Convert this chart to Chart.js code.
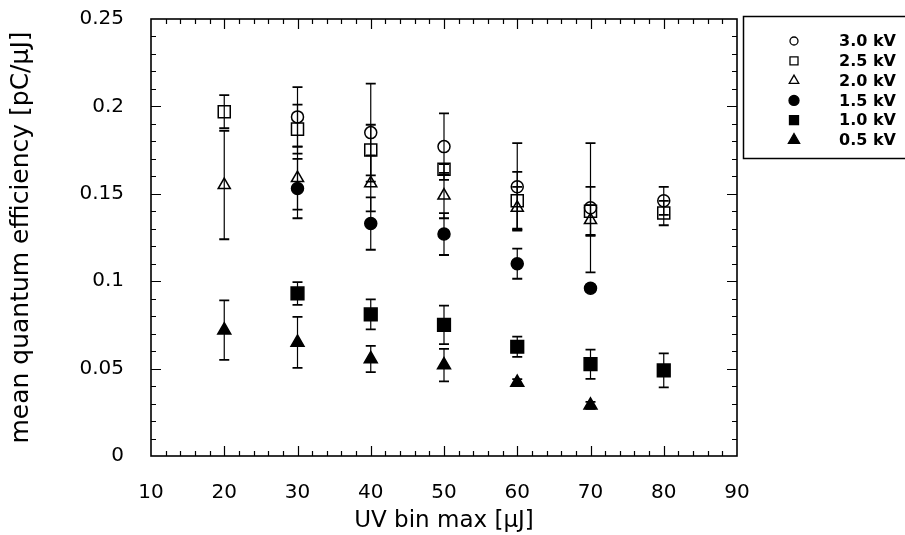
<!DOCTYPE html>
<html>
<head>
<meta charset="utf-8">
<title>Mean quantum efficiency vs UV bin</title>
<script src="https://cdn.jsdelivr.net/npm/chart.js@4.4.0/dist/chart.umd.min.js"></script>
<style>
  html, body { margin: 0; padding: 0; background: #fff; }
  #wrap { width: 905px; height: 535px; }
</style>
</head>
<body>
<div id="wrap"><canvas id="qeChart" width="905" height="535"></canvas></div>
<script>
// UV bin upper edges [uJ]
const binMax = [20, 30, 40, 50, 60, 70, 80];

// mean quantum efficiency [pC/uJ] per bias voltage, null = no measurement
const qe30 = [null, 0.194, 0.185, 0.177, 0.154, 0.142, 0.146];
const qe25 = [0.197, 0.187, 0.175, 0.164, 0.146, 0.140, 0.139];
const qe20 = [0.155, 0.159, 0.156, 0.149, 0.142, 0.135, null];
const qe15 = [null, 0.153, 0.133, 0.127, 0.110, 0.096, null];
const qe10 = [null, 0.093, 0.081, 0.075, 0.0625, 0.0525, 0.049];
const qe05 = [0.072, 0.065, 0.0555, 0.052, 0.042, 0.029, null];

// symmetric errors
const err30 = [null, 0.017, 0.028, 0.019, 0.025, 0.037, 0.008];
const err25 = [0.0095, 0.014, 0.0145, 0.003, 0.0165, 0.014, 0.007];
const err20 = [0.031, 0.018, 0.016, 0.013, 0.012, 0.0085, null];
const err15 = [null, 0.017, 0.015, 0.012, 0.0086, 0.002, null];
const err10 = [null, 0.0065, 0.0086, 0.011, 0.0058, 0.0084, 0.0097];
const err05 = [0.017, 0.0146, 0.0075, 0.0093, 0.002, 0.002, null];

const voltageLabels = ['3.0 kV', '2.5 kV', '2.0 kV', '1.5 kV', '1.0 kV', '0.5 kV'];

// axis ticks
const xMin = 10, xMax = 90, xStep = 10, xMinorStep = 2;
const yMin = 0, yMax = 0.25, yStep = 0.05, yMinorStep = 0.01;

const FONT = "'DejaVu Sans', 'Liberation Sans', Arial, sans-serif";

function toPoints(values, errors) {
    const pts = [];
    binMax.forEach((x, i) => {
        if (values[i] !== null) pts.push({ x: x, y: values[i], err: errors[i] || 0 });
    });
    return pts;
}

function makeSet(label, values, errors, shape, filled, radius) {
    return {
        label: label,
        data: toPoints(values, errors),
        pointStyle: shape,
        pointRadius: radius,
        pointHoverRadius: radius,
        pointBorderWidth: 1.5,
        pointBorderColor: '#000',
        pointBackgroundColor: filled ? '#000' : 'rgba(0,0,0,0)',
        showLine: false,
        filled: filled
    };
}

const datasets = [
    makeSet(voltageLabels[0], qe30, err30, 'circle', false, 6),
    makeSet(voltageLabels[1], qe25, err25, 'rect', false, 8.5),
    makeSet(voltageLabels[2], qe20, err20, 'triangle', false, 7),
    makeSet(voltageLabels[3], qe15, err15, 'circle', true, 6),
    makeSet(voltageLabels[4], qe10, err10, 'rect', true, 9),
    makeSet(voltageLabels[5], qe05, err05, 'triangle', true, 7.5)
];

// plot frame with inward ticks on all four sides
const frameTicks = {
    id: 'frameTicks',
    beforeDatasetsDraw(chart) {
        const { ctx, chartArea: a, scales: { x, y } } = chart;
        ctx.save();
        ctx.strokeStyle = '#000';
        ctx.lineWidth = 1.6;
        ctx.strokeRect(a.left, a.top, a.right - a.left, a.bottom - a.top);
        ctx.lineWidth = 1.2;
        ctx.beginPath();
        const nx = Math.round((xMax - xMin) / xMinorStep);
        for (let i = 1; i < nx; i++) {
            const v = xMin + i * xMinorStep;
            const px = Math.round(x.getPixelForValue(v)) + 0.5;
            const len = (i % (xStep / xMinorStep) === 0) ? 10 : 5;
            ctx.moveTo(px, a.bottom); ctx.lineTo(px, a.bottom - len);
            ctx.moveTo(px, a.top); ctx.lineTo(px, a.top + len);
        }
        const ny = Math.round((yMax - yMin) / yMinorStep);
        for (let i = 1; i < ny; i++) {
            const v = yMin + i * yMinorStep;
            const py = Math.round(y.getPixelForValue(v)) + 0.5;
            const len = (i % Math.round(yStep / yMinorStep) === 0) ? 10 : 5;
            ctx.moveTo(a.left, py); ctx.lineTo(a.left + len, py);
            ctx.moveTo(a.right, py); ctx.lineTo(a.right - len, py);
        }
        ctx.stroke();
        ctx.restore();
    }
};

// vertical error bars with caps
const errorBars = {
    id: 'errorBars',
    beforeDatasetsDraw(chart) {
        const { ctx, scales: { y } } = chart;
        ctx.save();
        ctx.strokeStyle = '#000';
        chart.data.datasets.forEach((ds, di) => {
            const meta = chart.getDatasetMeta(di);
            ds.data.forEach((p, i) => {
                if (!p.err) return;
                const el = meta.data[i];
                const top = y.getPixelForValue(p.y + p.err);
                const bot = y.getPixelForValue(p.y - p.err);
                ctx.lineWidth = 1.2;
                ctx.beginPath();
                ctx.moveTo(el.x, top); ctx.lineTo(el.x, bot);
                ctx.stroke();
                ctx.lineWidth = 1.8;
                ctx.beginPath();
                ctx.moveTo(el.x - 5, top); ctx.lineTo(el.x + 5, top);
                ctx.moveTo(el.x - 5, bot); ctx.lineTo(el.x + 5, bot);
                ctx.stroke();
            });
        });
        ctx.restore();
    }
};

function drawSymbol(ctx, shape, filled, cx, cy, r) {
    ctx.beginPath();
    if (shape === 'circle') {
        ctx.arc(cx, cy, r, 0, Math.PI * 2);
    } else if (shape === 'rect') {
        ctx.rect(cx - r, cy - r, 2 * r, 2 * r);
    } else {
        const w = r * Math.sin(Math.PI / 3);
        ctx.moveTo(cx, cy - r);
        ctx.lineTo(cx + w, cy + r / 2);
        ctx.lineTo(cx - w, cy + r / 2);
        ctx.closePath();
    }
    if (filled) ctx.fill();
    ctx.stroke();
}

// boxed legend to the right of the plot
const boxLegend = {
    id: 'boxLegend',
    afterDraw(chart) {
        const ctx = chart.ctx;
        const sizes = { circle: [4, 5], rect: [4, 4.5], triangle: [5.5, 6.5] };
        ctx.save();
        ctx.strokeStyle = '#000';
        ctx.fillStyle = '#000';
        ctx.lineWidth = 1.5;
        ctx.strokeRect(743.5, 16.5, 175, 142);
        ctx.font = 'bold 16px ' + FONT;
        ctx.textBaseline = 'middle';
        chart.data.datasets.forEach((ds, i) => {
            const cy = 41 + i * 19.8;
            ctx.lineWidth = 1.3;
            drawSymbol(ctx, ds.pointStyle, ds.filled, 794, cy, sizes[ds.pointStyle][ds.filled ? 1 : 0]);
            ctx.fillText(ds.label, 839, cy + 1);
        });
        ctx.restore();
    }
};

new Chart(document.getElementById('qeChart'), {
    type: 'scatter',
    data: { datasets: datasets },
    options: {
        responsive: false,
        animation: false,
        layout: { padding: { left: 0, right: 168, top: 19, bottom: 0 } },
        plugins: {
            legend: { display: false },
            tooltip: { enabled: false }
        },
        scales: {
            x: {
                type: 'linear',
                min: xMin,
                max: xMax,
                grid: { display: false },
                border: { display: false },
                ticks: {
                    stepSize: xStep,
                    color: '#000',
                    padding: 17,
                    maxRotation: 0,
                    font: { family: FONT, size: 20 }
                },
                title: {
                    display: true,
                    text: 'UV bin max [μJ]',
                    color: '#000',
                    font: { family: FONT, size: 23 },
                    padding: { top: 0, bottom: 0 }
                },
                afterFit(scale) { scale.height = 79; }
            },
            y: {
                type: 'linear',
                min: yMin,
                max: yMax,
                grid: { display: false },
                border: { display: false },
                ticks: {
                    stepSize: yStep,
                    color: '#000',
                    padding: 19,
                    font: { family: FONT, size: 20 },
                    callback: v => String(+v.toFixed(2))
                },
                title: {
                    display: true,
                    text: 'mean quantum efficiency [pC/μJ]',
                    color: '#000',
                    font: { family: FONT, size: 25 },
                    padding: { top: 6, bottom: 0 }
                },
                afterFit(scale) {
                    scale.width = 151;
                    // label padding is not wanted above/below the plot frame
                    scale.paddingTop = 0;
                    scale.paddingBottom = 0;
                }
            }
        }
    },
    plugins: [frameTicks, errorBars, boxLegend]
});
</script>
</body>
</html>
